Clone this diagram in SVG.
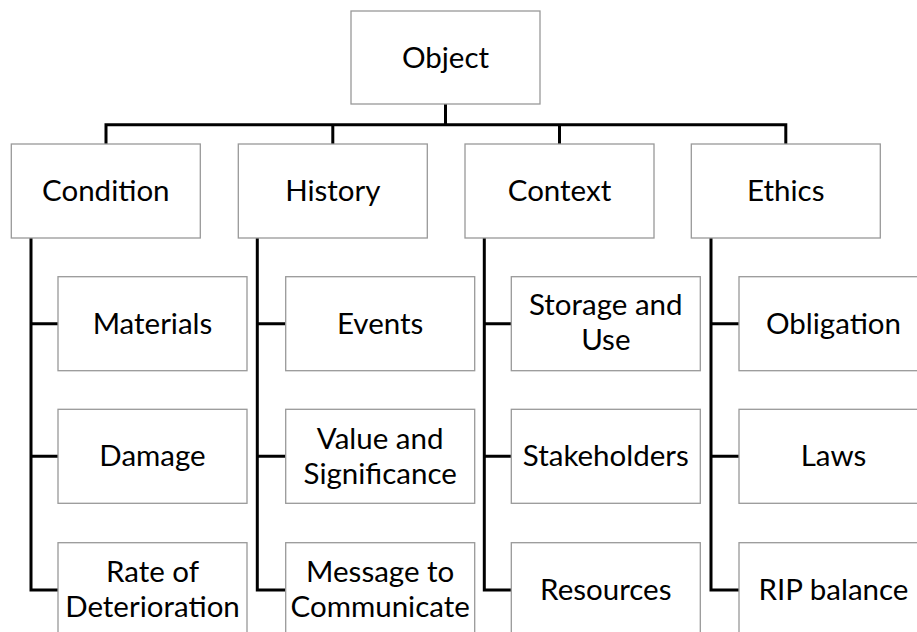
<svg xmlns="http://www.w3.org/2000/svg" width="917" height="632" viewBox="0 0 917 632">
<style>
.box{fill:#fff;stroke:#999;stroke-width:1.3}
.t{font-family:Lato,"Open Sans",sans-serif;font-size:29.5px;fill:#000;text-anchor:middle}
.c{fill:none;stroke:#000;stroke-width:3}
</style>
<rect width="917" height="632" fill="#fff"/>
<g id="connectors">
<path class="c" d="M445.5 104V124.7M106 124.7H786M106 123.2V144M332.8 123.2V144M559.5 123.2V144M785.8 123.2V144"/>
<path class="c" d="M31 238V590H58M31 323.7H58M31 456.3H58"/>
<path class="c" d="M257.3 238V590H285.7M257.3 323.7H285.7M257.3 456.3H285.7"/>
<path class="c" d="M484.3 238V590H511.3M484.3 323.7H511.3M484.3 456.3H511.3"/>
<path class="c" d="M711 238V590H739M711 323.7H739M711 456.3H739"/>
</g>
<g id="object"><rect class="box" x="351" y="11" width="189" height="93"/><text class="t" x="445.5" y="67.5">Object</text></g>
<g id="condition"><rect class="box" x="11.3" y="144" width="189" height="94"/><text class="t" x="105.8" y="200.5">Condition</text></g>
<g id="history"><rect class="box" x="238.3" y="144" width="189" height="94"/><text class="t" x="332.8" y="200.5">History</text></g>
<g id="context"><rect class="box" x="465" y="144" width="189" height="94"/><text class="t" x="559.5" y="200.5">Context</text></g>
<g id="ethics"><rect class="box" x="691.3" y="144" width="189" height="94"/><text class="t" x="785.8" y="200.5">Ethics</text></g>

<g id="materials"><rect class="box" x="58" y="276.7" width="189" height="94"/><text class="t" x="152.5" y="333.5">Materials</text></g>
<g id="damage"><rect class="box" x="58" y="409.3" width="189" height="94"/><text class="t" x="152.5" y="466">Damage</text></g>
<g id="rate"><rect class="box" x="58" y="542.7" width="189" height="94"/><text class="t" x="152.5" y="582">Rate of</text><text class="t" x="152.5" y="617">Deterioration</text></g>

<g id="events"><rect class="box" x="285.7" y="276.7" width="189" height="94"/><text class="t" x="380.2" y="333.5">Events</text></g>
<g id="value"><rect class="box" x="285.7" y="409.3" width="189" height="94"/><text class="t" x="380.2" y="448.5">Value and</text><text class="t" x="380.2" y="483.5">Significance</text></g>
<g id="message"><rect class="box" x="285.7" y="542.7" width="189" height="94"/><text class="t" x="380.2" y="582">Message to</text><text class="t" x="380.2" y="617">Communicate</text></g>

<g id="storage"><rect class="box" x="511.3" y="276.7" width="189" height="94"/><text class="t" x="605.8" y="315">Storage and</text><text class="t" x="605.8" y="350">Use</text></g>
<g id="stakeholders"><rect class="box" x="511.3" y="409.3" width="189" height="94"/><text class="t" x="605.8" y="466">Stakeholders</text></g>
<g id="resources"><rect class="box" x="511.3" y="542.7" width="189" height="94"/><text class="t" x="605.8" y="600">Resources</text></g>

<g id="obligation"><rect class="box" x="739" y="276.7" width="189" height="94"/><text class="t" x="833.5" y="333.5">Obligation</text></g>
<g id="laws"><rect class="box" x="739" y="409.3" width="189" height="94"/><text class="t" x="833.5" y="466">Laws</text></g>
<g id="rip"><rect class="box" x="739" y="542.7" width="189" height="94"/><text class="t" x="833.5" y="600">RIP balance</text></g>
</svg>
